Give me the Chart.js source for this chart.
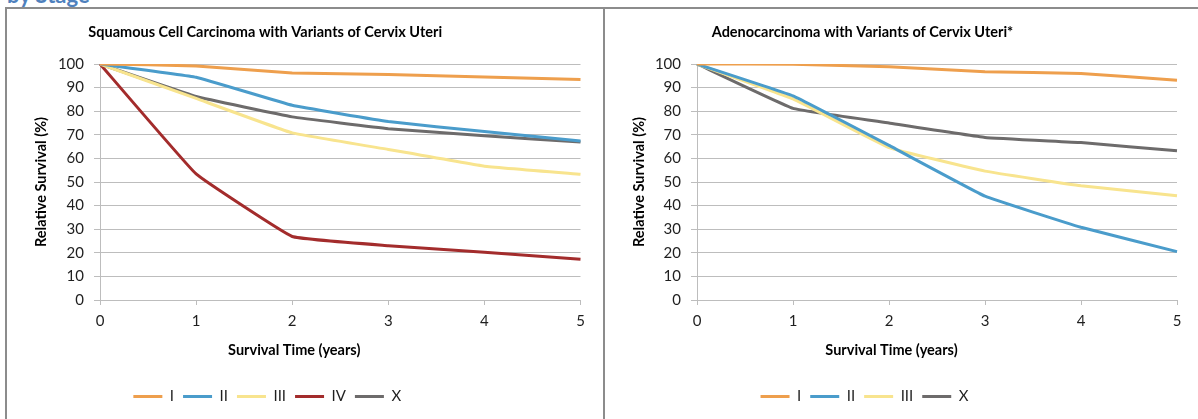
<!DOCTYPE html>
<html>
<head>
<meta charset="utf-8">
<script src="https://cdn.jsdelivr.net/npm/chart.js@4.4.1/dist/chart.umd.min.js"></script>
<style>
  html, body { margin: 0; padding: 0; background: #fff; overflow: hidden; }
  body { width: 1198px; height: 419px; position: relative; font-family: Lato, sans-serif; }
  .heading { position: absolute; left: 7px; top: -16px; font: bold 22px Lato, sans-serif; color: #4F81BD; line-height: 1; white-space: nowrap; }
  .panel { position: absolute; top: 7px; box-sizing: border-box; height: 430px; border-top: 2px solid #8c8c8c; }
  #panelA { left: 5px; width: 600px; border-left: 2px solid #8c8c8c; border-right: 2px solid #8c8c8c; }
  #panelB { left: 605px; width: 600px; }
  canvas { position: absolute; top: 10px; }
  #chartA { left: 8px; }
  #chartB { left: 606px; }
</style>
</head>
<body>
<div class="heading">by Stage</div>
<div class="panel" id="panelA"></div>
<div class="panel" id="panelB"></div>
<canvas id="chartA" width="594" height="409" style="width:594px;height:409px"></canvas>
<canvas id="chartB" width="592" height="409" style="width:592px;height:409px"></canvas>
<script>
const years = ["0", "1", "2", "3", "4", "5"];
const stageNames = ["I", "II", "III", "IV", "X"];
const stageColors = ["#EE9F4D", "#4A9CCB", "#F8E48E", "#A32C2C", "#6D6B6B"];

// Squamous Cell Carcinoma
const sqI = [100, 99.2, 96.2, 95.6, 94.5, 93.4];
const sqII = [100, 94.4, 82.5, 75.6, 71.4, 67.4];
const sqIII = [100, 85.4, 70.8, 63.8, 56.7, 53.3];
const sqIV = [100, 53.4, 26.9, 23.0, 20.2, 17.3];
const sqX = [100, 86.2, 77.6, 72.6, 69.6, 66.9];

// Adenocarcinoma (no stage IV line)
const adI = [100, 99.9, 98.8, 96.7, 96.0, 93.1];
const adII = [100, 86.5, 65.5, 44.0, 30.8, 20.5];
const adIII = [100, 85.2, 64.6, 54.6, 48.4, 44.2];
const adX = [100, 81.2, 75.0, 68.9, 66.7, 63.2];

const yTicks = [0, 10, 20, 30, 40, 50, 60, 70, 80, 90, 100];

const FONT = "Lato, sans-serif";
const GRID = "#BDBDBD";
const TXT = "#1f1f1f";

// move title and legend a bit left, like the original layout
const shiftBoxes = {
  id: "shiftBoxes",
  afterLayout(chart, args, opts) {
    chart.boxes.forEach(b => {
      if (b.axis) return;
      const dx = b === chart.legend ? opts.legend : (b === chart.titleBlock ? opts.title : 0);
      b.left += dx;
      b.right += dx;
    });
  }
};

function crearGrafico(canvasId, titulo, series, names, colors, yWidth, padRight) {
  const datasets = series.map((data, i) => ({
    label: names[i],
    data,
    borderColor: colors[i],
    backgroundColor: colors[i],
    borderWidth: 3,
    pointRadius: 0,
    tension: 0.08,
  }));

  return new Chart(document.getElementById(canvasId), {
    type: "line",
    data: { labels: years, datasets },
    plugins: [shiftBoxes],
    options: {
      responsive: false,
      animation: false,
      layout: { padding: { left: 0, right: padRight, top: 0, bottom: 5 } },
      plugins: {
        shiftBoxes: { title: -29, legend: -27 },
        title: {
          display: true,
          text: titulo,
          color: "#000",
          font: { family: FONT, size: 14.5, weight: "bold" },
          padding: { top: 13.3, bottom: 23.3 },
        },
        subtitle: {
          display: true,
          position: "bottom",
          weight: 500,
          text: "Survival Time (years)",
          color: "#000",
          font: { family: FONT, size: 14.5, weight: "bold" },
          padding: { top: 5.3, bottom: 21.3 },
        },
        legend: {
          position: "bottom",
          labels: {
            color: TXT,
            font: { family: FONT, size: 15 },
            boxWidth: 29,
            boxHeight: 3,
            padding: 9,
            generateLabels(chart) {
              return Chart.defaults.plugins.legend.labels.generateLabels(chart)
                .map(l => Object.assign(l, { lineWidth: 0, fillStyle: l.strokeStyle }));
            },
          },
        },
        tooltip: { enabled: false },
      },
      scales: {
        x: {
          offset: false,
          afterFit(scale) { scale.height = 36; },
          grid: { drawOnChartArea: false, drawTicks: true, tickLength: 5, color: GRID },
          border: { display: true, color: GRID },
          ticks: { color: TXT, font: { family: FONT, size: 15 }, padding: 7, maxRotation: 0 },
        },
        y: {
          min: 0,
          max: 100,
          afterFit(scale) { scale.width = yWidth; },
          afterBuildTicks(scale) { scale.ticks = yTicks.map(v => ({ value: v })); },
          grid: { color: GRID, tickLength: 6 },
          border: { display: true, color: GRID },
          ticks: { color: TXT, font: { family: FONT, size: 15 }, padding: 10 },
          title: {
            display: true,
            text: "Relative Survival (%)",
            color: "#000",
            font: { family: FONT, size: 14.5, weight: "bold" },
            padding: { top: 24.5, bottom: 0 },
          },
        },
      },
    },
  });
}

crearGrafico("chartA", "Squamous Cell Carcinoma with Variants of Cervix Uteri",
  [sqI, sqII, sqIII, sqIV, sqX], stageNames,
  stageColors, 92, 21.5);

crearGrafico("chartB", "Adenocarcinoma with Variants of Cervix Uteri*",
  [adI, adII, adIII, adX], ["I", "II", "III", "X"],
  [stageColors[0], stageColors[1], stageColors[2], stageColors[4]], 91, 21);
</script>
</body>
</html>
